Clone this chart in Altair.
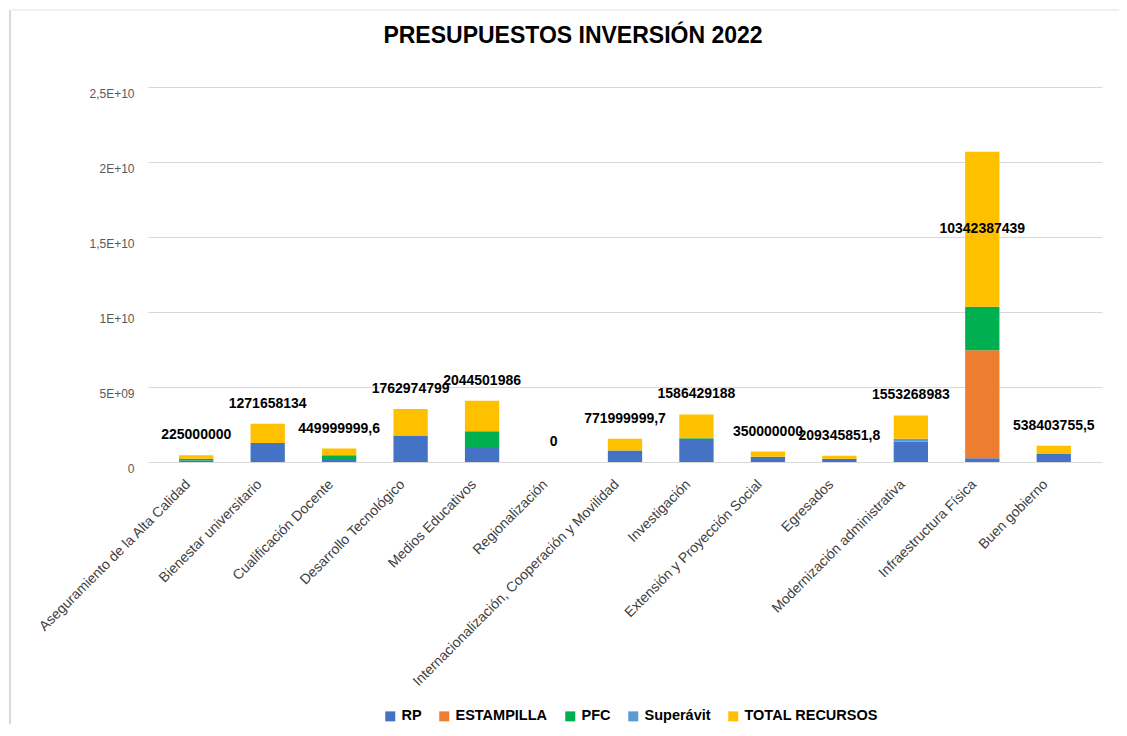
import altair as alt
import pandas as pd

categories = [
    "Aseguramiento de la Alta Calidad", "Bienestar universitario", "Cualificación Docente",
    "Desarrollo Tecnológico", "Medios Educativos", "Regionalización",
    "Internacionalización, Cooperación y Movilidad", "Investigación",
    "Extensión y Proyección Social", "Egresados", "Modernización administrativa",
    "Infraestructura Física", "Buen gobierno",
]
series = ["RP", "ESTAMPILLA", "PFC", "Superávit", "TOTAL RECURSOS"]
colors = ["#4472C4", "#ED7D31", "#00B050", "#5B9BD5", "#FFC000"]

rp = [100000000, 1271658134, 200000000, 1762974799, 1000000000, 0, 771999999.7,
      1536429188, 350000000, 209345851.8, 1353268983, 250000000, 538403755.5]
estampilla = [0, 0, 0, 0, 0, 0, 0, 0, 0, 0, 0, 7200000000, 0]
pfc = [125000000, 0, 249999999.6, 0, 1044501986, 0, 0, 50000000, 0, 0, 0, 2892387439, 0]
superavit = [0, 0, 0, 0, 0, 0, 0, 0, 0, 0, 200000000, 0, 0]
total = [225000000, 1271658134, 449999999.6, 1762974799, 2044501986, 0, 771999999.7,
         1586429188, 350000000, 209345851.8, 1553268983, 10342387439, 538403755.5]

y_tick_values = [0, 5e9, 1e10, 1.5e10, 2e10, 2.5e10]
y_tick_labels = ["0", "5E+09", "1E+10", "1,5E+10", "2E+10", "2,5E+10"]


def excel_general(v):
    if float(v).is_integer():
        return str(int(v))
    return ("%.1f" % v).replace(".", ",")


rows = []
for i, c in enumerate(categories):
    for s_idx, (s, vals) in enumerate(zip(series, [rp, estampilla, pfc, superavit, total])):
        rows.append({"cat": c, "serie": s, "order": s_idx, "value": vals[i]})
df = pd.DataFrame(rows)

lab = pd.DataFrame({
    "cat": categories,
    "top": [2 * t for t in total],
    "mid": [1.5 * t for t in total],
    "label": [excel_general(t) for t in total],
})

label_expr = ""
for v, l in zip(y_tick_values, y_tick_labels):
    label_expr += "datum.value == %d ? '%s' : " % (int(v), l)
label_expr += "''"

x_enc = alt.X("cat:N", sort=categories, title=None,
              scale=alt.Scale(paddingInner=0.52, paddingOuter=0.435),
              axis=alt.Axis(labelAngle=-45, labelAlign="right", labelBaseline="middle",
                            labelPadding=20, labelOffset=-8, ticks=False, domain=False,
                            labelFont="Liberation Sans", labelFontSize=14,
                            labelColor="#404040", labelLimit=400))

bars = alt.Chart(df).mark_bar().encode(
    x=x_enc,
    y=alt.Y("sum(value):Q", title=None,
            scale=alt.Scale(domain=[0, 2.5e10], nice=False),
            axis=alt.Axis(values=y_tick_values, labelExpr=label_expr, ticks=False,
                          domain=False, grid=True, gridColor="#D9D9D9", labelPadding=14,
                          labelFont="Liberation Sans", labelFontSize=12,
                          labelColor="#595959", labelOffset=6)),
    color=alt.Color("serie:N", scale=alt.Scale(domain=series, range=colors),
                    legend=alt.Legend(title=None, orient="none", legendX=235, legendY=622,
                                      direction="horizontal", columns=5,
                                      symbolType="square", symbolSize=100,
                                      symbolStrokeWidth=0,
                                      labelFont="Liberation Sans",
                                      labelFontSize=14.5, labelFontWeight="bold",
                                      labelColor="#000000", columnPadding=15,
                                      labelOffset=4)),
    order=alt.Order("order:Q"),
)

small = alt.Chart(lab).transform_filter("datum.top < 15000000000").mark_text(
    dy=-20, font="Liberation Sans", fontSize=14, fontWeight="bold", color="#000000"
).encode(x=alt.X("cat:N", sort=categories), y=alt.Y("top:Q"), text="label:N")

big = alt.Chart(lab).transform_filter("datum.top >= 15000000000").mark_text(
    font="Liberation Sans", fontSize=14, fontWeight="bold", color="#000000"
).encode(x=alt.X("cat:N", sort=categories), y=alt.Y("mid:Q"), text="label:N")

frame = alt.Chart(lab).mark_rule(color="#D9D9D9", strokeWidth=1).encode(
    x=alt.value(-138), y=alt.value(-77), y2=alt.value(660)
)
frame_top = alt.Chart(lab).mark_rule(color="#F0F0F0", strokeWidth=1).encode(
    x=alt.value(-138), x2=alt.value(975), y=alt.value(-77)
)

chart = alt.layer(frame, frame_top, bars, small, big).properties(
    width=954, height=375,
    padding={"left": 140, "top": 79, "right": 17, "bottom": 262},
    autosize=alt.AutoSizeParams(type="none"),
    title=alt.TitleParams("PRESUPUESTOS INVERSIÓN 2022", anchor="middle", dx=-52,
                          offset=-38, font="Liberation Sans", fontSize=23,
                          fontWeight="bold", color="#000000"),
).configure(background="#FFFFFF").configure_view(stroke=None)

chart.save("out.html", embed_options={"renderer": "svg", "actions": False})
